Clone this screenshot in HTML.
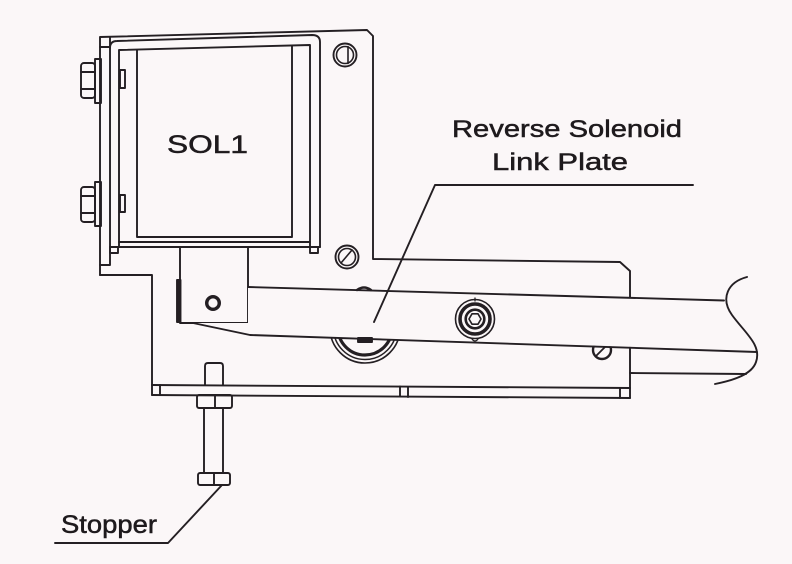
<!DOCTYPE html>
<html>
<head>
<meta charset="utf-8">
<style>
html,body{margin:0;padding:0;background:#fbf7f8;}
svg{display:block;}
text{font-family:"Liberation Sans",sans-serif;fill:#1e1a1d;stroke:#1e1a1d;stroke-width:0.5;}
</style>
</head>
<body>
<svg width="792" height="564" viewBox="0 0 792 564" xmlns="http://www.w3.org/2000/svg">
<rect width="792" height="564" fill="#fbf7f8"/>
<g fill="none" stroke="#241f23" stroke-width="1.9" stroke-linejoin="round" stroke-linecap="round">
  <!-- main plate outline -->
  <path d="M100,275 L100,37 L367,30 L373,36 L373,259 L620,262 L630,271 L630,398"/>
  <path d="M100,275 L152,275 L152,395"/>
  <path d="M110,37 L110,265 M100,265 L110,265 M100,47 L110,47"/>
  <!-- U frame -->
  <path d="M110,48 Q110,41 117,41 L312,35 Q320,35 320,42 L320,247"/>
  <path d="M119,247 L119,50 L310,45 L310,247"/>
  <path d="M137,50 L137,237 M292,45.5 L292,237 M137,237 L292,237 M119,242 L310,242 M110,247 L320,247"/>
  <rect x="110" y="247" width="8" height="6"/>
  <rect x="310" y="247" width="8" height="6"/>
  <!-- tabs -->
  <rect x="120" y="70" width="5" height="18"/>
  <rect x="120" y="195" width="5" height="17"/>
  <!-- bolts -->
  <rect x="95" y="59" width="6" height="44"/>
  <rect x="81" y="63" width="14" height="35" rx="3"/>
  <path d="M81,72 L95,72 M81,89 L95,89"/>
  <rect x="95" y="182" width="6" height="44"/>
  <rect x="81" y="187" width="14" height="35" rx="3"/>
  <path d="M81,196 L95,196 M81,213 L95,213"/>
  <!-- plate holes -->
  <circle cx="345" cy="55" r="11.5"/>
  <circle cx="345" cy="55" r="8.5" stroke-width="1.6"/>
  <path d="M348,46.5 L348,63.5" stroke-width="1.6"/>
  <circle cx="347" cy="257" r="11.5"/>
  <circle cx="347" cy="257" r="8.5" stroke-width="1.6"/>
  <path d="M341,263 L352,250" stroke-width="1.6"/>
  <!-- block under solenoid -->
  <rect x="180" y="247" width="68" height="76"/>
  <rect x="177" y="280" width="3.5" height="42" fill="#241f23"/>
  <circle cx="213" cy="303" r="6.3" stroke-width="3.4"/>
  <!-- roller -->
  <circle cx="365" cy="328" r="35" stroke-width="1.6"/>
  <circle cx="365" cy="328" r="31.5" stroke-width="1.5"/>
  <circle cx="365" cy="328" r="27" stroke-width="3.2"/>
  <!-- right screw -->
  <circle cx="602" cy="350" r="9" stroke-width="2.4"/>
  <path d="M596,356 L607,345" stroke-width="1.8"/>
</g>
<!-- link plate cover -->
<path d="M248,287 L724,300.5 L730,315 L745,332 L757,351 L250,335 L193,323 L248,323 Z" fill="#fbf7f8" stroke="none"/>
<g fill="none" stroke="#241f23" stroke-width="1.9" stroke-linejoin="round" stroke-linecap="round">
  <path d="M248,287 L724,300.5"/>
  <path d="M193,323 L250,335 L757,352"/>
  <path d="M630,373 L746,374"/>
  <path d="M747,277 C728,282 720,298 732,315 C745,333 762,345 756,362 C752,374 735,380 715,384"/>
  <rect x="358" y="338" width="14" height="4" fill="#241f23"/>
  <path d="M357,290 Q364,285 371,290" stroke-width="2.4"/>
  <!-- hex bolt -->
  <circle cx="475" cy="319" r="19.5" stroke-width="1.6"/>
  <circle cx="475" cy="319" r="15" stroke-width="3.6"/>
  <circle cx="475" cy="319" r="9.3" stroke-width="2.6"/>
  <polygon points="481,319 478,324.2 472,324.2 469,319 472,313.8 478,313.8" stroke-width="1.6"/>
  <path d="M475,298 L475,301 M472,339 Q475,343 478,339" stroke-width="1.3"/>
  <!-- bottom strip -->
  <path d="M152,385 L630,388 M152,395 L630,398"/>
  <path d="M160,385 L160,395 M400,386.5 L400,396.5 M408,387 L408,397 M620,388 L620,398"/>
  <!-- stopper -->
  <path d="M205,385 L205,366 Q205,363 208,363 L220,363 Q223,363 223,366 L223,385"/>
  <rect x="197" y="395" width="35" height="13" rx="2"/>
  <path d="M215,395 L215,408"/>
  <path d="M204,408 L204,473 M223,408 L223,473"/>
  <rect x="198" y="473" width="32" height="12" rx="2"/>
  <path d="M214,473 L214,485"/>
  <!-- leaders -->
  <path d="M693,185 L435,185 L374,322"/>
  <path d="M222,485 L168,543 L55,543"/>
</g>
<text x="167" y="153" font-size="25" textLength="81" lengthAdjust="spacingAndGlyphs">SOL1</text>
<text x="452" y="137" font-size="24" textLength="230" lengthAdjust="spacingAndGlyphs">Reverse Solenoid</text>
<text x="492" y="170" font-size="24" textLength="136" lengthAdjust="spacingAndGlyphs">Link Plate</text>
<text x="61" y="533" font-size="25" textLength="96" lengthAdjust="spacingAndGlyphs">Stopper</text>
</svg>
</body>
</html>
